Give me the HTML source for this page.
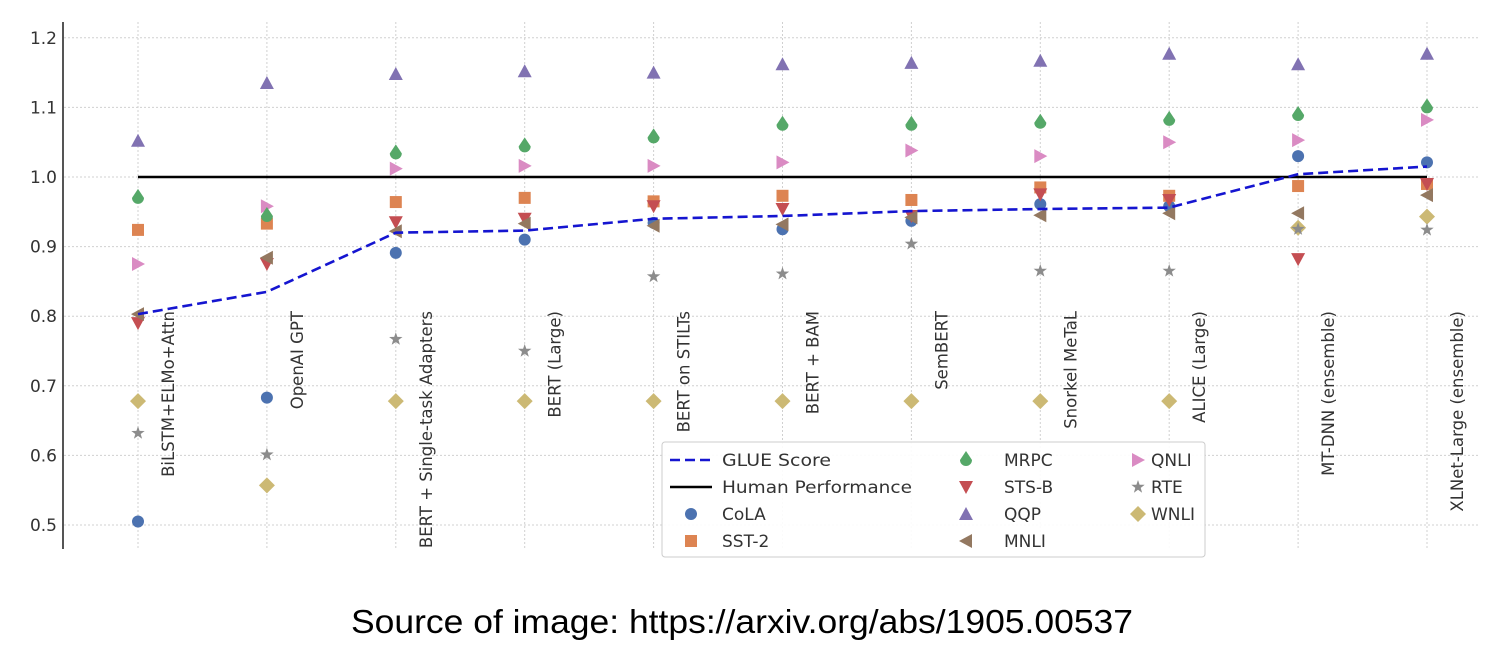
<!DOCTYPE html>
<html><head><meta charset="utf-8"><style>
html,body{margin:0;padding:0;background:#fff;width:1506px;height:664px;overflow:hidden}
svg{display:block;font-family:"DejaVu Sans","Liberation Sans",sans-serif}
</style></head><body>
<svg id="chart" width="1506" height="664">
<g id="grid"></g>
<g id="axes"></g>
<g id="marks"></g>
<g id="legend"></g>
<text x="742" y="633" text-anchor="middle" font-family="Liberation Sans, sans-serif" font-size="33" textLength="782" lengthAdjust="spacingAndGlyphs" fill="#000">Source of image: https://arxiv.org/abs/1905.00537</text>
</svg>
<script>
const categories = ["BiLSTM+ELMo+Attn","OpenAI GPT","BERT + Single-task Adapters","BERT (Large)","BERT on STILTs","BERT + BAM","SemBERT","Snorkel MeTaL","ALICE (Large)","MT-DNN (ensemble)","XLNet-Large (ensemble)"];
const glue = [0.803,0.835,0.920,0.923,0.940,0.944,0.951,0.954,0.956,1.004,1.015];
const human = 1.0;
const cola = [0.505,0.683,0.891,0.910,0.934,0.925,0.937,0.961,0.958,1.030,1.021];
const sst2 = [0.924,0.933,0.964,0.970,0.965,0.973,0.967,0.985,0.973,0.987,0.990];
const mrpc = [0.970,0.944,1.034,1.044,1.057,1.075,1.075,1.078,1.082,1.089,1.100];
const stsb = [0.790,0.875,0.935,0.940,0.958,0.954,0.944,0.975,0.967,0.882,0.990];
const qqp = [1.052,1.135,1.148,1.152,1.150,1.162,1.164,1.167,1.177,1.162,1.177];
const mnli = [0.803,0.884,0.922,0.933,0.930,0.932,0.942,0.945,0.948,0.948,0.974];
const qnli = [0.875,0.958,1.012,1.016,1.016,1.021,1.038,1.030,1.050,1.053,1.082];
const rte = [0.632,0.601,0.767,0.750,0.857,0.861,0.904,0.865,0.865,0.925,0.924];
const wnli = [0.678,0.557,0.678,0.678,0.678,0.678,0.678,0.678,0.678,0.927,0.943];
const yTicks = [0.5,0.6,0.7,0.8,0.9,1.0,1.1,1.2];

const NS="http://www.w3.org/2000/svg";
const X0=138, DX=128.9, Y1=177, PY=696;
const x=i=>X0+i*DX;
const y=v=>Y1-(v-1.0)*PY;
function mk(tag,attrs,parent){const e=document.createElementNS(NS,tag);for(const k in attrs)e.setAttribute(k,attrs[k]);parent.appendChild(e);return e;}
const grid=document.getElementById('grid'),axes=document.getElementById('axes'),marks=document.getElementById('marks'),legend=document.getElementById('legend');

yTicks.forEach(t=>{
  const l=mk('line',{x1:64,x2:1480,y1:y(t),y2:y(t),stroke:'#d0d0d0','stroke-width':1,'stroke-dasharray':'2,2'},grid);
  
  
  const tx=mk('text',{x:57,y:y(t)+6,'text-anchor':'end','font-size':17,fill:'#333'},axes);
  tx.textContent=t.toFixed(1);
  
  
});
categories.forEach((c,i)=>{
  const l=mk('line',{x1:x(i),x2:x(i),y1:22,y2:548,stroke:'#d0d0d0','stroke-width':1,'stroke-dasharray':'2,2'},grid);
  
  
  const tx=mk('text',{x:0,y:0,'text-anchor':'end','font-size':16.5,fill:'#333',transform:`translate(${x(i)+36},311) rotate(-90)`},axes);
  tx.textContent=c;
  
  
});
const sp=mk('line',{x1:63,x2:63,y1:22,y2:549,stroke:'#555','stroke-width':2},axes);



const hl=mk('line',{x1:x(0),x2:x(categories.length-1),y1:y(human),y2:y(human),stroke:'#000','stroke-width':2.4},marks);



function shape(type,cx,cy,color,parent){
  let e;const s=7;
  if(type==='circle')e=mk('circle',{cx:cx,cy:cy,r:6,fill:color},parent);
  else if(type==='square')e=mk('rect',{x:cx-6,y:cy-6,width:12,height:12,fill:color},parent);
  else if(type==='tup')e=mk('path',{d:`M${cx},${cy-s}L${cx+s},${cy+6}L${cx-s},${cy+6}Z`,fill:color},parent);
  else if(type==='tdown')e=mk('path',{d:`M${cx},${cy+s}L${cx+s},${cy-6}L${cx-s},${cy-6}Z`,fill:color},parent);
  else if(type==='tleft')e=mk('path',{d:`M${cx-s},${cy}L${cx+6},${cy-s}L${cx+6},${cy+s}Z`,fill:color},parent);
  else if(type==='tright')e=mk('path',{d:`M${cx+s},${cy}L${cx-6},${cy-s}L${cx-6},${cy+s}Z`,fill:color},parent);
  else if(type==='diamond')e=mk('path',{d:`M${cx},${cy-8}L${cx+8},${cy}L${cx},${cy+8}L${cx-8},${cy}Z`,fill:color},parent);
  else if(type==='drop')e=mk('path',{d:`M${cx},${cy-9}L${cx+6},${cy}A6,6 0 1 1 ${cx-6},${cy}Z`,fill:color},parent);
  else if(type==='star'){let p='';for(let k=0;k<10;k++){const r=k%2?2.8:7,a=-Math.PI/2+k*Math.PI/5;p+=(k?'L':'M')+(cx+r*Math.cos(a)).toFixed(1)+','+(cy+r*Math.sin(a)).toFixed(1);}e=mk('path',{d:p+'Z',fill:color},parent);}
  return e;
}
const series=[
 ['WNLI',wnli,'diamond','#CCB974'],['RTE',rte,'star','#8C8C8C'],['QNLI',qnli,'tright','#DA8BC3'],
 ['CoLA',cola,'circle','#4C72B0'],['SST-2',sst2,'square','#DD8452'],['MRPC',mrpc,'drop','#55A868'],
 ['STS-B',stsb,'tdown','#C44E52'],['QQP',qqp,'tup','#8172B2'],['MNLI',mnli,'tleft','#937860']];
series.forEach(([name,vals,t,c])=>{
  vals.forEach((v,i)=>{
    const e=shape(t,x(i),y(v),c,marks);
    
    
  });
});
const gp=mk('polyline',{points:glue.map((v,i)=>x(i)+','+y(v)).join(' '),fill:'none',stroke:'#1515d0','stroke-width':2.6,'stroke-dasharray':'10,5'},marks);



const lb=mk('rect',{x:662,y:442,width:543,height:115,rx:3,fill:'#fff','fill-opacity':0.9,stroke:'#ccc'},legend);


const rows=[460,487,514,541];
function lt(tx,px,py,name,len){const e=mk('text',{x:px,y:py+6,'font-size':17,fill:'#333'},legend);if(len){e.setAttribute('textLength',len);e.setAttribute('lengthAdjust','spacingAndGlyphs');}e.textContent=tx;}
const g1=mk('line',{x1:670,x2:712,y1:rows[0],y2:rows[0],stroke:'#1515d0','stroke-width':2.6,'stroke-dasharray':'10,5'},legend);


lt('GLUE Score',722,rows[0],'legend-glue',109);
const h1=mk('line',{x1:670,x2:712,y1:rows[1],y2:rows[1],stroke:'#000','stroke-width':2.4},legend);


lt('Human Performance',722,rows[1],'legend-human',190);
const L=[['CoLA','circle','#4C72B0',691,722,2],['SST-2','square','#DD8452',691,722,3],
 ['MRPC','drop','#55A868',966,1004,0],['STS-B','tdown','#C44E52',966,1004,1],['QQP','tup','#8172B2',966,1004,2],['MNLI','tleft','#937860',966,1004,3],
 ['QNLI','tright','#DA8BC3',1138,1151,0],['RTE','star','#8C8C8C',1138,1151,1],['WNLI','diamond','#CCB974',1138,1151,2]];
L.forEach(([n,t,c,mx,tx,r])=>{
  const e=shape(t,mx,rows[r],c,legend);
  
  
  lt(n,tx,rows[r],'legend-'+n.toLowerCase());
});
</script>
</body></html>
